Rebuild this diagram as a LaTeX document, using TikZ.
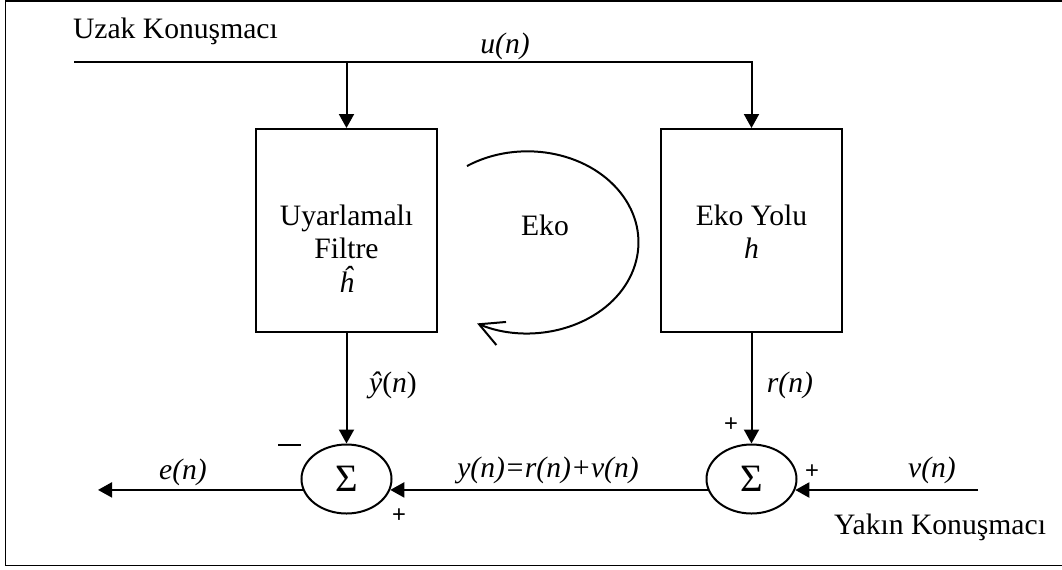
\documentclass[tikz,border=0pt]{standalone}
\usepackage{fontspec}
\setmainfont{Liberation Serif}
\newfontfamily\plusfont{Liberation Sans}
\usetikzlibrary{arrows.meta,shapes.geometric}
\begin{document}
\begin{tikzpicture}[x=0.4pt,y=-0.4pt,
  line width=0.8pt,
  sig/.style={-{Triangle[length=5.6pt,width=6pt]}},
  blockbox/.style={draw,minimum width=72.4pt,minimum height=81.2pt,inner sep=0},
  sumnode/.style={draw,ellipse,minimum width=36pt,minimum height=27.6pt,inner sep=0,
    font=\fontsize{15.5}{17}\selectfont},
  lbl/.style={font=\fontsize{11.85}{14}\selectfont,inner sep=0},
  sgn/.style={font=\plusfont\fontsize{9.5}{11}\selectfont,inner sep=0}]
\useasboundingbox (0,0) rectangle (1062,569);
% outer frame
\draw[line width=0.75pt] (5.5,1) rectangle (1075,565.5);

% blocks
\node[blockbox] (filt) at (346.5,230.5) {};
\node[blockbox] (path) at (751.5,230.5) {};
\node[lbl,anchor=base] (filtA) at (346.5,225) {Uyarlamalı};
\node[lbl,anchor=base] (filtB) at (346.5,258) {Filtre};
\node[lbl,anchor=base] (filtC) at (346.5,292) {\itshape ĥ};
\node[lbl,anchor=base] (pathA) at (751.5,225) {Eko Yolu};
\node[lbl,anchor=base] (pathB) at (751.5,258) {\itshape h};

% summing junctions
\node[sumnode] (s1) at (346.5,479) {Σ};
\node[sumnode] (s2) at (751.5,479) {Σ};

% free ends
\coordinate (far) at (74,62);
\coordinate (tapL) at (346.5,62);
\coordinate (near) at (978,490);
\coordinate (out) at (98,490);

% signal paths
\draw[sig] (far) -| (path.north);
\draw[sig] (tapL) -- (filt.north);
\draw[sig] (filt.south) -- (s1.north);
\draw[sig] (path.south) -- (s2.north);
\draw[sig] (near) -- (near -| s2.-14.5);
\draw[sig] (s2.194.5) -- (s2.194.5 -| s1.-14.5);
\draw[sig] (s1.194.5) -- (s1.194.5 -| out);

% echo loop
\coordinate (arcS) at (467,166);
\draw[-{Straight Barb[length=9.6pt,width=10pt]}] (arcS)
  arc[start angle=123,end angle=-117,x radius=44.4pt,y radius=36.4pt];
\node[lbl] (eko) at (545,225) {Eko};

% labels
\node[lbl,anchor=west] (farTxt) at (72,31) {Uzak Konuşmacı};
\node[lbl,anchor=east] (nearTxt) at (1047,527) {Yakın Konuşmacı};
\node[lbl] (un) at (505,46) {\itshape u(n)};
\node[lbl] (yhat) at (393,385) {{\itshape ŷ}(\textit{n})};
\node[lbl] (rn) at (790,385) {\itshape r(n)};
\node[lbl] (en) at (183,472) {\itshape e(n)};
\node[lbl] (yn) at (548,470) {\itshape y(n)=r(n)+v(n)};
\node[lbl] (vn) at (932,470) {\itshape v(n)};

% signs
\node[sgn] (p1) at (731,425) {+};
\node[sgn] (p2) at (812,472) {+};
\node[sgn] (p3) at (399,516) {+};
\node[inner sep=0] (m1) at (289.5,445) {\rule{9.2pt}{0.7pt}};
\end{tikzpicture}
\end{document}
